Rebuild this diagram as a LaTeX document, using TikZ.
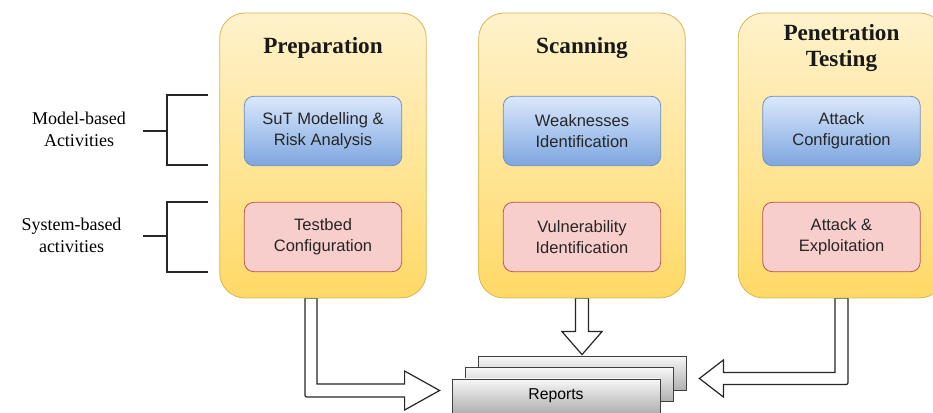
\documentclass[tikz,border=0pt]{standalone}
\usepackage{fontspec}
\setmainfont{Liberation Serif}
\setsansfont{Liberation Sans}
\usetikzlibrary{positioning,calc}

\definecolor{phaseTop}{HTML}{FFF2CC}
\definecolor{phaseBot}{HTML}{FFD966}
\definecolor{phaseLine}{HTML}{D6B656}
\definecolor{modelTop}{HTML}{DAE8FC}
\definecolor{modelBot}{HTML}{7EA6E0}
\definecolor{modelLine}{HTML}{6C8EBF}
\definecolor{sysFill}{HTML}{F8CECC}
\definecolor{sysLine}{HTML}{B85450}
\definecolor{repTop}{HTML}{F7F7F7}
\definecolor{repBot}{HTML}{B0B0B0}

\begin{document}
\begin{tikzpicture}[x=0.75pt, y=-0.75pt,
  phase/.style={draw=phaseLine, line width=0.6pt, top color=phaseTop, bottom color=phaseBot,
    rounded corners=19pt, minimum width=155pt, minimum height=213.75pt, inner sep=0pt},
  title/.style={font=\fontsize{17.4}{19}\selectfont\bfseries, align=center, text=black!90},
  innerbox/.style={line width=0.6pt, rounded corners=7pt, minimum width=118pt, minimum height=52pt,
    inner sep=0pt, align=center, font=\sffamily\fontsize{12.4}{16}\selectfont, text=black!85},
  modelbox/.style={innerbox, draw=modelLine, top color=modelTop, bottom color=modelBot},
  sysbox/.style={innerbox, draw=sysLine, fill=sysFill},
  report/.style={draw=black!75, line width=0.6pt, top color=repTop, bottom color=repBot,
    minimum width=156pt, minimum height=25.5pt, inner sep=0pt, font=\sffamily\fontsize{11.8}{14}\selectfont},
  blockarrow/.style={draw=black!85, fill=white, line width=0.9pt},
  side/.style={align=center, font=\fontsize{13.5}{16.5}\selectfont},
  brace/.style={line width=0.8pt, black!85}]
  \useasboundingbox (0,0) rectangle (933,413);
  \clip (0,0) rectangle (933,413);

  % report stack
  \node[report] (rep3) at (582,373) {};
  \node[report] (rep2) at (569,384.5) {};
  \node[report] (rep1) at (556,396) {Reports};

  % phases
  \coordinate (prepc) at (323,155.5);
  \coordinate (scanc) at (582,155.5);
  \coordinate (pentc) at (841.5,155.5);

  % block arrows into the reports
  \coordinate (l0) at ($(prepc)+(-12,142.5)$);
  \coordinate (l1) at ($(rep1.west)+(-12,-5.5)$);
  \draw[blockarrow] ($(l0)+(-6,0)$) -- ($(l0 |- l1)+(-6,2.5)$)
    .. controls ($(l0 |- l1)+(-6,6.5)$) .. ($(l0 |- l1)+(-2,6.5)$)
    -- ($(l1)+(-35,6.5)$) -- ($(l1)+(-35,19.5)$) -- (l1) -- ($(l1)+(-35,-19.5)$)
    -- ($(l1)+(-35,-6.5)$) -| ($(l0)+(6,0)$) -- cycle;

  \coordinate (m0) at ($(scanc)+(0,142.5)$);
  \coordinate (m1) at ($(rep3.north)+(0,-1)$);
  \draw[blockarrow] ($(m0)+(-6.5,0)$) -- ($(m1)+(-6.5,-23)$) -- ($(m1)+(-20,-23)$) -- (m1)
    -- ($(m1)+(20,-23)$) -- ($(m1)+(6.5,-23)$) -- ($(m0)+(6.5,0)$) -- cycle;

  \coordinate (r0) at ($(pentc)+(0,142.5)$);
  \coordinate (r1) at ($(rep3.east)+(13,5.5)$);
  \draw[blockarrow] ($(r0)+(6.5,0)$) -- ($(r0 |- r1)+(6.5,2)$)
    .. controls ($(r0 |- r1)+(6.5,6)$) .. ($(r0 |- r1)+(2.5,6)$)
    -- ($(r1)+(24,6)$) -- ($(r1)+(24,18.5)$) -- (r1) -- ($(r1)+(24,-18.5)$)
    -- ($(r1)+(24,-6)$) -| ($(r0)+(-6.5,0)$) -- cycle;

  \node[phase] (prep) at (prepc) {};
  \node[phase] (scan) at (scanc) {};
  \node[phase] (pent) at (pentc) {};

  \node[title] (prept) at ($(prep.north)+(0,35)$) {Preparation};
  \node[title] (scant) at ($(scan.north)+(0,35)$) {Scanning};
  \node[title] (pentt) at ($(pent.north)+(0,35.5)$) {Penetration\\Testing};

  \node[modelbox] (sut)  at (323,131) {SuT Modelling \&\\Risk Analysis};
  \node[sysbox]   (tbed) at (323,237) {Testbed\\Configuration};
  \node[modelbox] (weak) at (582,131) {Weaknesses\\Identification};
  \node[sysbox]   (vuln) at (582,237) {Vulnerability\\Identification};
  \node[modelbox] (acfg) at (841.5,131) {Attack\\Configuration};
  \node[sysbox]   (aexp) at (841.5,237) {Attack \&\\Exploitation};

  % activity groups on the left
  \node[side] (mlab) at (79,129) {Model-based\\Activities};
  \node[side] (slab) at (71.5,235.5) {System-based\\activities};
  \draw[brace] (208,95) -| (167,165) -- (208,165);
  \draw[brace] (143,131) -- (167,131);
  \draw[brace] (208,202) -| (167,272) -- (208,272);
  \draw[brace] (143,236) -- (167,236);
\end{tikzpicture}
\end{document}
